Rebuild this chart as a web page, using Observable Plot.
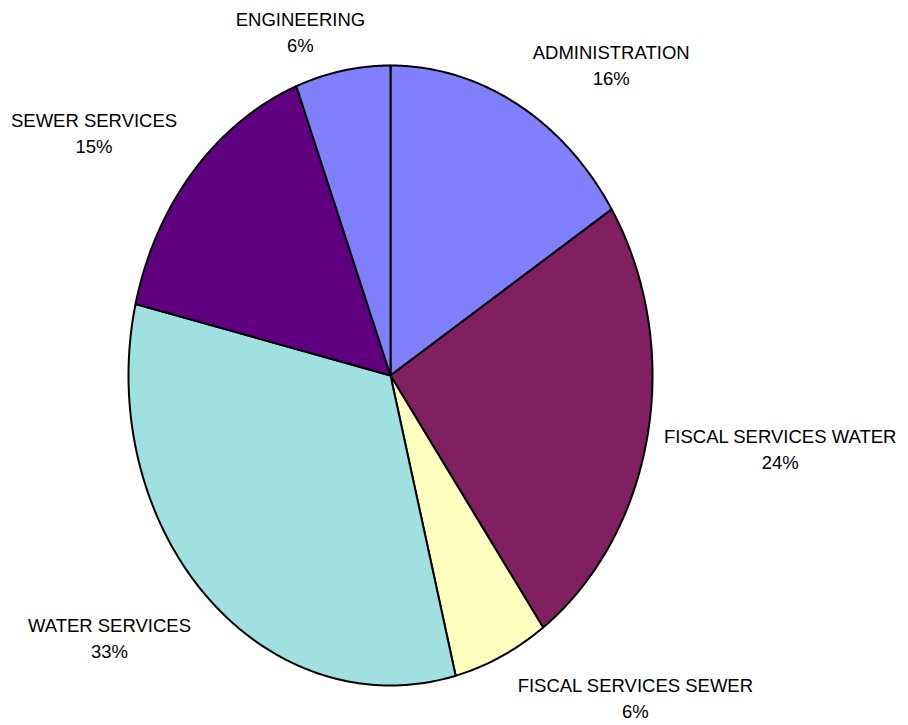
<!DOCTYPE html>
<html>
<head>
<meta charset="utf-8">
<script src="https://cdn.jsdelivr.net/npm/d3@7"></script>
<script src="https://cdn.jsdelivr.net/npm/@observablehq/plot@0.6"></script>
<style>
  html, body { margin: 0; padding: 0; background: #fff; }
  #chart { width: 908px; height: 725px; }
</style>
</head>
<body>
<div id="chart"></div>
<script>
// ---- data ----
const categories = ["ADMINISTRATION", "FISCAL SERVICES WATER", "FISCAL SERVICES SEWER", "WATER SERVICES", "SEWER SERVICES", "ENGINEERING"];
const shares = [16.0, 24.1, 5.9, 32.7, 15.45, 5.85];
const colors = ["#8080FF", "#802060", "#FFFFC0", "#A0E0E0", "#600080", "#8080FF"];

// ---- build slices in data space (unit circle, angle from 12 o'clock clockwise) ----
const total = d3.sum(shares);
const slices = [];
let acc = 0;
categories.forEach((cat, i) => {
  const a0 = acc / total * 2 * Math.PI;
  acc += shares[i];
  const a1 = acc / total * 2 * Math.PI;
  slices.push({cat, share: shares[i], a0, a1, mid: (a0 + a1) / 2});
});

const pts = [];
for (const s of slices) {
  pts.push({cat: s.cat, x: 0, y: 0});
  const n = Math.max(2, Math.ceil((s.a1 - s.a0) / (Math.PI / 360)));
  for (let k = 0; k <= n; k++) {
    const a = s.a0 + (s.a1 - s.a0) * k / n;
    pts.push({cat: s.cat, x: Math.sin(a), y: Math.cos(a)});
  }
  pts.push({cat: s.cat, x: 0, y: 0});
}

// ---- labels: placed outside the slice at its mid angle, lines centred ----
const fontSize = 18.5;
const ctx = document.createElement("canvas").getContext("2d");
ctx.font = `${fontSize}px 'Liberation Sans', Arial, sans-serif`;
const clamp = v => Math.max(-1, Math.min(1, v));
const labelMarks = slices.map(s => {
  const sx = Math.sin(s.mid), cy = Math.cos(s.mid);
  const lines = [s.cat, `${Math.round(s.share)}%`];
  const w = d3.max(lines, l => ctx.measureText(l).width);
  const off = 16, halfH = 24;
  const dx = clamp(sx / 0.35) * (off + w / 2);
  const dy = -clamp(cy / 0.6) * (off + halfH);
  return Plot.text([s], {
    x: d => Math.sin(d.mid),
    y: d => Math.cos(d.mid),
    text: d => `${d.cat}\n${Math.round(d.share)}%`,
    textAnchor: "middle", lineAnchor: "middle", dx, dy,
    fontSize,
    lineHeight: 1.405,
    fill: "#000"
  });
});

const plot = Plot.plot({
  width: 908,
  height: 725,
  marginLeft: 128,
  marginRight: 256,
  marginTop: 65,
  marginBottom: 40,
  x: {domain: [-1, 1], axis: null},
  y: {domain: [-1, 1], axis: null},
  color: {domain: categories, range: colors},
  style: {fontFamily: "'Liberation Sans', Arial, sans-serif", background: "#fff", overflow: "visible"},
  marks: [
    Plot.line(pts, {
      x: "x", y: "y", z: "cat", fill: "cat",
      stroke: "#000", strokeWidth: 2, strokeLinejoin: "round", curve: "linear"
    }),
    ...labelMarks
  ]
});
document.getElementById("chart").appendChild(plot);
</script>
</body>
</html>
